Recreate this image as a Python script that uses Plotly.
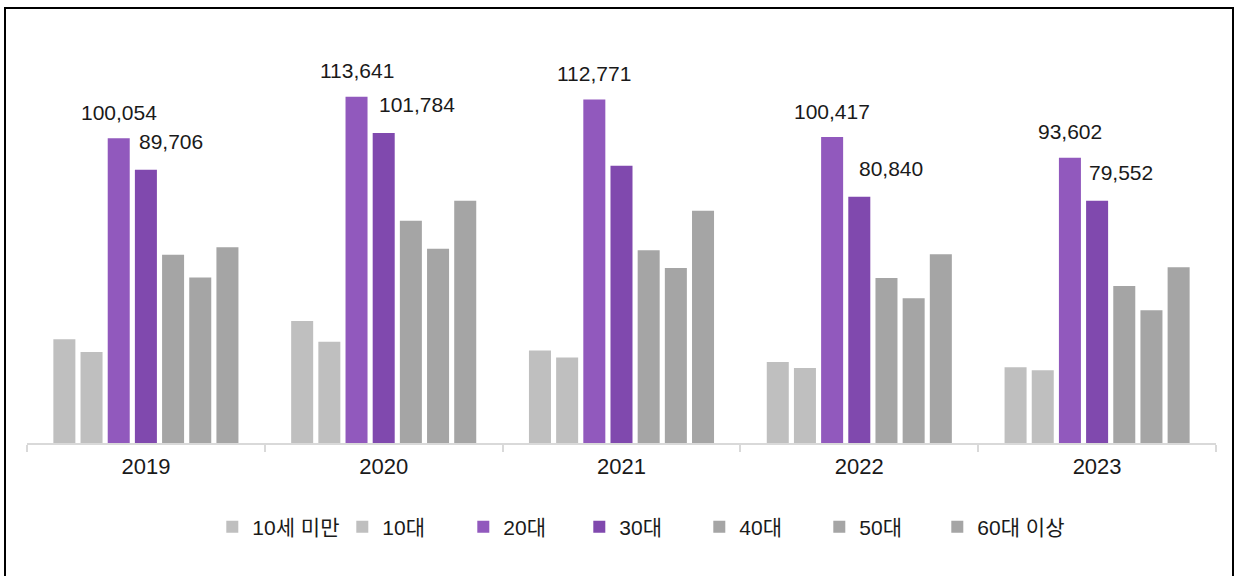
import plotly.graph_objects as go

# Yearly counts by age group
years = ["2019", "2020", "2021", "2022", "2023"]
age_groups = ["10세 미만", "10대", "20대", "30대", "40대", "50대", "60대 이상"]

under10 = [34050, 40050, 30400, 26600, 24850]
teens = [29900, 33250, 28100, 24600, 23850]
twenties = [100054, 113641, 112771, 100417, 93602]
thirties = [89706, 101784, 91050, 80840, 79552]
forties = [61800, 73000, 63250, 54150, 51550]
fifties = [54300, 63800, 57450, 47500, 43550]
sixties = [64250, 79550, 76250, 61950, 57700]

series = [under10, teens, twenties, thirties, forties, fifties, sixties]

# which 30대 values carry a data label
thirties_labelled = [True, True, False, True, True]

# styling
colors = ["#bfbfbf", "#bfbfbf", "#9159bd", "#8049ae", "#a5a5a5", "#a5a5a5", "#a5a5a5"]
legend_widths = [85, 76, 71, 75, 75, 73, 95]
thirties_label_xshift = [25, 33, 0, 32, 24]
FONT = "Liberation Sans, Noto Sans CJK KR, sans-serif"

fig = go.Figure()
for name, vals, col, lw in zip(age_groups, series, colors, legend_widths):
    fig.add_trace(go.Bar(
        x=years, y=vals, name=name,
        marker=dict(color=col, line=dict(width=0)),
        legendwidth=lw,
        hoverinfo="skip",
    ))

# data labels for 20대 (centered over bar) and 30대 (offset to the right).
# Year names look numeric, so annotations are placed by category index.
slot_px = 1189 / 5 * 0.8 / 7
for i, v in enumerate(twenties):
    fig.add_annotation(
        x=i, y=v, xref="x", yref="y", text=f"{v:,}", showarrow=False,
        xshift=-slot_px, yshift=26, yanchor="middle",
        font=dict(family=FONT, size=21, color="#1a1a1a"),
    )
for i, (v, show, dx) in enumerate(zip(thirties, thirties_labelled, thirties_label_xshift)):
    if show:
        fig.add_annotation(
            x=i, y=v, xref="x", yref="y", text=f"{v:,}", showarrow=False,
            xshift=dx, yshift=28, yanchor="middle",
            font=dict(family=FONT, size=21, color="#1a1a1a"),
        )

# outer frame
L, R, T, B = 27, 24, 47, 133
pw, ph = 1240 - L - R, 576 - T - B
def px_x(px):
    return (px - L) / pw
def px_y(py):
    return (576 - B - py) / ph

fig.add_shape(
    type="rect", xref="paper", yref="paper",
    x0=px_x(5), x1=px_x(1233), y0=px_y(578), y1=px_y(8),
    line=dict(color="#000000", width=2), fillcolor="rgba(0,0,0,0)", layer="above",
)

fig.update_layout(
    width=1240, height=576,
    margin=dict(l=L, r=R, t=T, b=B),
    paper_bgcolor="white", plot_bgcolor="white",
    barmode="group", bargap=0.2, bargroupgap=0.19,
    font=dict(family=FONT, size=20, color="#1a1a1a"),
    showlegend=True,
    legend=dict(
        orientation="h", x=0.5196, xanchor="center", y=px_y(527), yanchor="middle",
        entrywidthmode="pixels", itemwidth=30,
        font=dict(family=FONT, size=21, color="#1a1a1a"),
        bgcolor="rgba(0,0,0,0)", traceorder="normal",
    ),
    xaxis=dict(
        type="category", range=[-0.5, 4.5],
        showline=True, linecolor="#d9d9d9", linewidth=1.5,
        ticks="outside", tickson="boundaries", ticklen=7, tickcolor="#d9d9d9", tickwidth=1.5,
        tickfont=dict(family=FONT, size=22, color="#1a1a1a"),
        ticklabelstandoff=3,
        showgrid=False, zeroline=False, fixedrange=True,
    ),
    yaxis=dict(
        range=[0, 130000], showticklabels=False, ticks="", showline=False,
        showgrid=False, zeroline=False, fixedrange=True,
    ),
)

fig.write_html("out.html")
